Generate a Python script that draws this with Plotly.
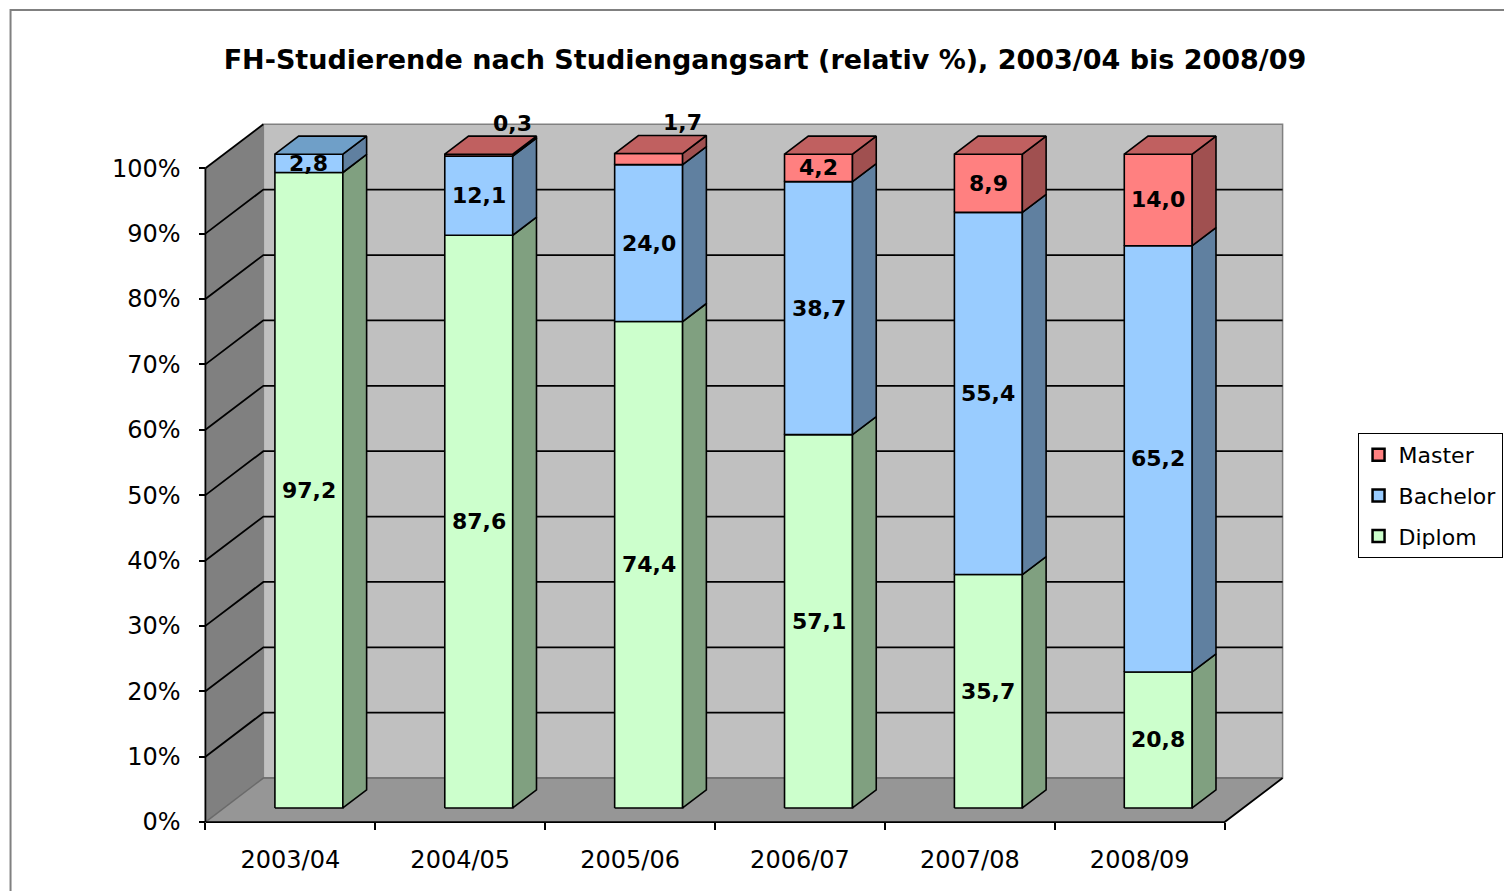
import plotly.graph_objects as go

# ---------------- data ----------------
categories = ["2003/04", "2004/05", "2005/06", "2006/07", "2007/08", "2008/09"]
diplom = [97.2, 87.6, 74.4, 57.1, 35.7, 20.8]
bachelor = [2.8, 12.1, 24.0, 38.7, 55.4, 65.2]
master = [0.0, 0.3, 1.7, 4.2, 8.9, 14.0]
y_ticks = [0, 10, 20, 30, 40, 50, 60, 70, 80, 90, 100]
y_tick_labels = [f"{v}%" for v in y_ticks]
title_text = "FH-Studierende nach Studiengangsart (relativ %), 2003/04 bis 2008/09"

series = [
    # name, values, front, side, top
    ("Diplom", diplom, "#CCFFCC", "#80A080", "#A8D0A8"),
    ("Bachelor", bachelor, "#99CCFF", "#6080A0", "#6F9FC8"),
    ("Master", master, "#FF8080", "#A05050", "#C06060"),
]

# ---------------- 3D projection params (in axis units) ----------------
DX = 58 / 170      # depth shift along x (category units)
DY = 44 / 6.54     # depth shift along y (% units)
F0, F1 = 0.32, 0.73  # bar front / back depth fraction
W = 0.4            # bar width
n = len(categories)
XMIN, XMAX = -0.5, n - 0.5

def P(x, y, z):
    return x + z * DX, y + z * DY

fig = go.Figure()

def poly(xs, ys, fill, line_color=None, lw=0):
    fig.add_trace(go.Scatter(
        x=xs, y=ys, mode="lines", fill="toself", fillcolor=fill,
        line=dict(color=line_color or fill, width=lw),
        hoverinfo="skip", showlegend=False))

def line(xs, ys, color="black", lw=1.8):
    fig.add_trace(go.Scatter(x=xs, y=ys, mode="lines",
                             line=dict(color=color, width=lw),
                             hoverinfo="skip", showlegend=False))

def quad(pts):
    xs = [p[0] for p in pts] + [pts[0][0]]
    ys = [p[1] for p in pts] + [pts[0][1]]
    return xs, ys

# back wall
xs, ys = quad([P(XMIN, 0, 1), P(XMAX, 0, 1), P(XMAX, 100, 1), P(XMIN, 100, 1)])
poly(xs, ys, "#C0C0C0", "#808080", 1.5)
# left wall
xs, ys = quad([P(XMIN, 0, 0), P(XMIN, 0, 1), P(XMIN, 100, 1), P(XMIN, 100, 0)])
poly(xs, ys, "#808080", "#808080", 0)
# floor
xs, ys = quad([P(XMIN, 0, 0), P(XMAX, 0, 0), P(XMAX, 0, 1), P(XMIN, 0, 1)])
poly(xs, ys, "#969696", "#969696", 0)

# gridlines
gx, gy = [], []
for t in y_ticks[1:]:
    a, b, c = P(XMIN, t, 0), P(XMIN, t, 1), P(XMAX, t, 1)
    if t < 100:
        gx += [a[0], b[0], c[0], None]
        gy += [a[1], b[1], c[1], None]
    else:
        gx += [a[0], b[0], None]
        gy += [a[1], b[1], None]
line(gx, gy, "black", 1.8)
# floor back edge & left-wall bottom edge (grey)
a, b, c = P(XMIN, 0, 0), P(XMIN, 0, 1), P(XMAX, 0, 1)
line([a[0], b[0], c[0]], [a[1], b[1], c[1]], "#6a6a6a", 1.5)
# front axis edges (black)
a, b = P(XMIN, 0, 0), P(XMIN, 100, 0)
line([a[0], b[0]], [a[1], b[1]], "black", 1.8)
a, b, c = P(XMIN, 0, 0), P(XMAX, 0, 0), P(XMAX, 0, 1)
line([a[0], b[0], c[0]], [a[1], b[1], c[1]], "black", 1.8)

# ---------------- bars ----------------
LABEL_FONT = dict(family="DejaVu Sans", size=22, color="black", weight="bold")
annotations = []
base = [0.0] * n
tops = [sum(v) for v in zip(*[s[1] for s in series])]
for name, vals, c_front, c_side, c_top in series:
    fx, fy, sx, sy, tx, ty = [], [], [], [], [], []
    for i, v in enumerate(vals):
        if v <= 0:
            continue
        y0, y1 = base[i], base[i] + v
        x0, x1 = i - W / 2, i + W / 2
        xs, ys = quad([P(x0, y0, F0), P(x1, y0, F0), P(x1, y1, F0), P(x0, y1, F0)])
        fx += xs + [None]; fy += ys + [None]
        xs, ys = quad([P(x1, y0, F0), P(x1, y0, F1), P(x1, y1, F1), P(x1, y1, F0)])
        sx += xs + [None]; sy += ys + [None]
        is_top = abs(y1 - tops[i]) < 1e-9
        if is_top:
            xs, ys = quad([P(x0, y1, F0), P(x1, y1, F0), P(x1, y1, F1), P(x0, y1, F1)])
            tx += xs + [None]; ty += ys + [None]
        label = f"{v:.1f}".replace(".", ",")
        if name == "Master" and v < 3:
            lx, _ = P(x1, y1, F0)
            _, ly = P(x1, y1, F1)
            annotations.append(dict(x=lx, y=ly, text=label, showarrow=False,
                                    xanchor="center", yanchor="bottom", yshift=-2,
                                    font=LABEL_FONT))
        else:
            lx, ly = P(i, (y0 + y1) / 2, F0)
            annotations.append(dict(x=lx, y=ly, text=label, showarrow=False,
                                    xanchor="center", yanchor="middle",
                                    font=LABEL_FONT))
        base[i] = y1
    fig.add_trace(go.Scatter(x=fx, y=fy, mode="lines", fill="toself", fillcolor=c_front,
                             line=dict(color="black", width=1.6), hoverinfo="skip",
                             showlegend=False))
    fig.add_trace(go.Scatter(x=sx, y=sy, mode="lines", fill="toself", fillcolor=c_side,
                             line=dict(color="black", width=1.6), hoverinfo="skip",
                             showlegend=False))
    if tx:
        fig.add_trace(go.Scatter(x=tx, y=ty, mode="lines", fill="toself", fillcolor=c_top,
                                 line=dict(color="black", width=1.6), hoverinfo="skip",
                                 showlegend=False))

# legend entries
for k, (name, vals, c_front, c_side, c_top) in enumerate(reversed(series)):
    fig.add_trace(go.Scatter(x=[None], y=[None], mode="markers", name=name,
                             legendgroup=name,
                             marker=dict(symbol="square", size=12, color=c_front,
                                         line=dict(color="black", width=2.5))))

# ---------------- layout ----------------
# the page body has an 8px margin; page pixel coords are shifted by OFF
OFF = 8
W_FIG, H_FIG = 1512 - OFF, 891 - OFF
L, R, T, B = 201.6 - OFF, 225.6, 121 - OFF, 67
xr = [XMIN - 0.02, XMAX + DX + 0.02]
yr = [-0.3, 100 + DY + 0.5]
pw = W_FIG - L - R
ph = H_FIG - T - B

def px_to_paper_x(px):
    return (px - OFF - L) / pw

def px_to_paper_y(py):
    return (H_FIG - B - (py - OFF)) / ph

fig.update_layout(
    width=W_FIG, height=H_FIG,
    margin=dict(l=L, r=R, t=T, b=B, autoexpand=False),
    paper_bgcolor="white", plot_bgcolor="white",
    font=dict(family="DejaVu Sans", color="black"),
    title=dict(text=title_text, x=(765 - OFF) / W_FIG, xanchor="center",
               y=1 - (60 - OFF) / H_FIG,
               yanchor="middle", font=dict(size=27, weight="bold", family="DejaVu Sans")),
    xaxis=dict(range=xr, type="linear", showgrid=False, zeroline=False, showline=False,
               tickmode="array", tickvals=list(range(n)), ticktext=categories,
               ticks="", tickfont=dict(size=24), ticklabelstandoff=21,
               anchor="free", position=(0 - yr[0]) / (yr[1] - yr[0]),
               minor=dict(tickmode="array", tickvals=[XMIN + k for k in range(n + 1)],
                          ticks="outside", ticklen=7, tickwidth=1.5, tickcolor="black"),
               fixedrange=True),
    yaxis=dict(range=yr, type="linear", showgrid=False, zeroline=False, showline=False,
               tickmode="array", tickvals=y_ticks, ticktext=y_tick_labels,
               ticks="outside", ticklen=6, tickwidth=1.5, tickcolor="black",
               tickfont=dict(size=24), ticklabelstandoff=14,
               anchor="free", position=(XMIN - xr[0]) / (xr[1] - xr[0]),
               fixedrange=True),
    legend=dict(x=px_to_paper_x(1358), y=px_to_paper_y(433), xanchor="left", yanchor="top",
                bordercolor="black", borderwidth=1, bgcolor="white",
                font=dict(size=22, family="DejaVu Sans"), tracegroupgap=9,
                traceorder="grouped", itemwidth=30),
    annotations=annotations,
    shapes=[dict(type="path", xref="paper", yref="paper",
                 path=(f"M {px_to_paper_x(10)},{px_to_paper_y(900)} "
                       f"L {px_to_paper_x(10)},{px_to_paper_y(10)} "
                       f"L {px_to_paper_x(1520)},{px_to_paper_y(10)}"),
                 line=dict(color="#808080", width=2), layer="above")],
    showlegend=True,
)

fig.write_html("out.html")
